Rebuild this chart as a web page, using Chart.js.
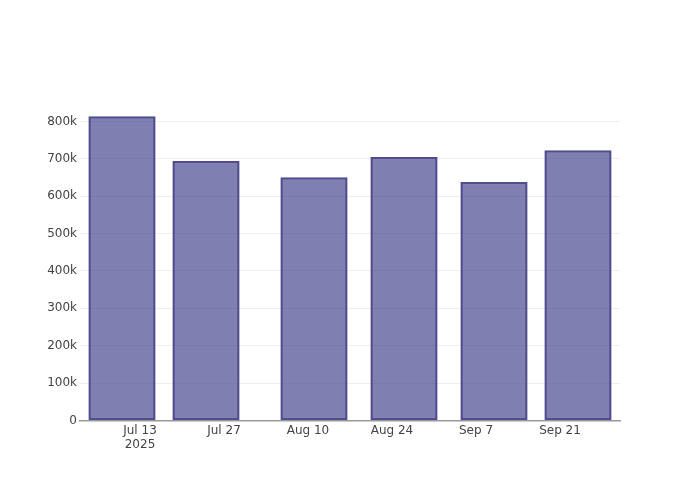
<!DOCTYPE html>
<html>
<head>
<meta charset="utf-8">
<script src="https://cdn.jsdelivr.net/npm/chart.js@4"></script>
<style>
  html, body { margin: 0; padding: 0; background: #fff; }
  #wrap { width: 700px; height: 500px; }
</style>
</head>
<body>
<div id="wrap"><canvas id="barChart" width="700" height="500"></canvas></div>
<script>
// bar dates and values
const barDates = ["2025-07-10", "2025-07-24", "2025-08-11", "2025-08-26", "2025-09-10", "2025-09-24"];
const barValues = [814000, 694000, 651000, 705000, 638000, 723000];

// x axis ticks
const tickDates = ["2025-07-13", "2025-07-27", "2025-08-10", "2025-08-24", "2025-09-07", "2025-09-21"];
const tickLabels = [["Jul 13", "2025"], "Jul 27", "Aug 10", "Aug 24", "Sep 7", "Sep 21"];
const xRange = ["2025-07-03", "2025-10-01"];

const yTicks = [0, 100000, 200000, 300000, 400000, 500000, 600000, 700000, 800000];
const yTickLabels = ["0", "100k", "200k", "300k", "400k", "500k", "600k", "700k", "800k"];

// days since Jul 1 (no date adapter available, so use a linear axis)
const origin = Date.UTC(2025, 6, 1);
function dayNum(s) {
    const p = s.split("-");
    return (Date.UTC(+p[0], +p[1] - 1, +p[2]) - origin) / 86400000;
}

const points = barDates.map((d, i) => ({ x: dayNum(d), y: barValues[i] }));
const tickPos = tickDates.map(dayNum);
const yMax = Math.max(...barValues) * 1.05;

const fontFam = "'DejaVu Sans', sans-serif";

const ctx = document.getElementById("barChart").getContext("2d");

new Chart(ctx, {
    type: "bar",
    data: {
        datasets: [{
            data: points,
            backgroundColor: "rgba(62,60,138,0.66)",
            borderColor: "#4f4d8e",
            borderWidth: 2.5,
            borderSkipped: false,
            barPercentage: 1,
            categoryPercentage: 0.8
        }]
    },
    options: {
        responsive: false,
        animation: false,
        layout: { padding: { top: 101, right: 80, left: 0, bottom: 0 } },
        plugins: {
            legend: { display: false },
            tooltip: { enabled: false }
        },
        scales: {
            x: {
                type: "linear",
                offset: false,
                min: dayNum(xRange[0]),
                max: dayNum(xRange[1]),
                afterBuildTicks: function (axis) {
                    axis.ticks = tickPos.map(v => ({ value: v }));
                },
                afterFit: function (axis) { axis.height = 79.5; },
                grid: { display: false, drawTicks: false },
                border: { display: true, color: "#999", width: 1.5 },
                ticks: {
                    padding: 3,
                    maxRotation: 0,
                    autoSkip: false,
                    color: "#444",
                    font: { family: fontFam, size: 12 },
                    callback: function (v) {
                        const i = tickPos.indexOf(v);
                        return i >= 0 ? tickLabels[i] : "";
                    }
                }
            },
            y: {
                min: 0,
                max: yMax,
                afterBuildTicks: function (axis) {
                    axis.ticks = yTicks.map(v => ({ value: v }));
                },
                afterFit: function (axis) { axis.width = 80; },
                grid: { color: "#eeeeee", drawTicks: false, lineWidth: 1 },
                border: { display: false },
                ticks: {
                    padding: 3,
                    color: "#444",
                    font: { family: fontFam, size: 12 },
                    callback: function (v) {
                        const i = yTicks.indexOf(v);
                        return i >= 0 ? yTickLabels[i] : "";
                    }
                }
            }
        }
    }
});
</script>
</body>
</html>
